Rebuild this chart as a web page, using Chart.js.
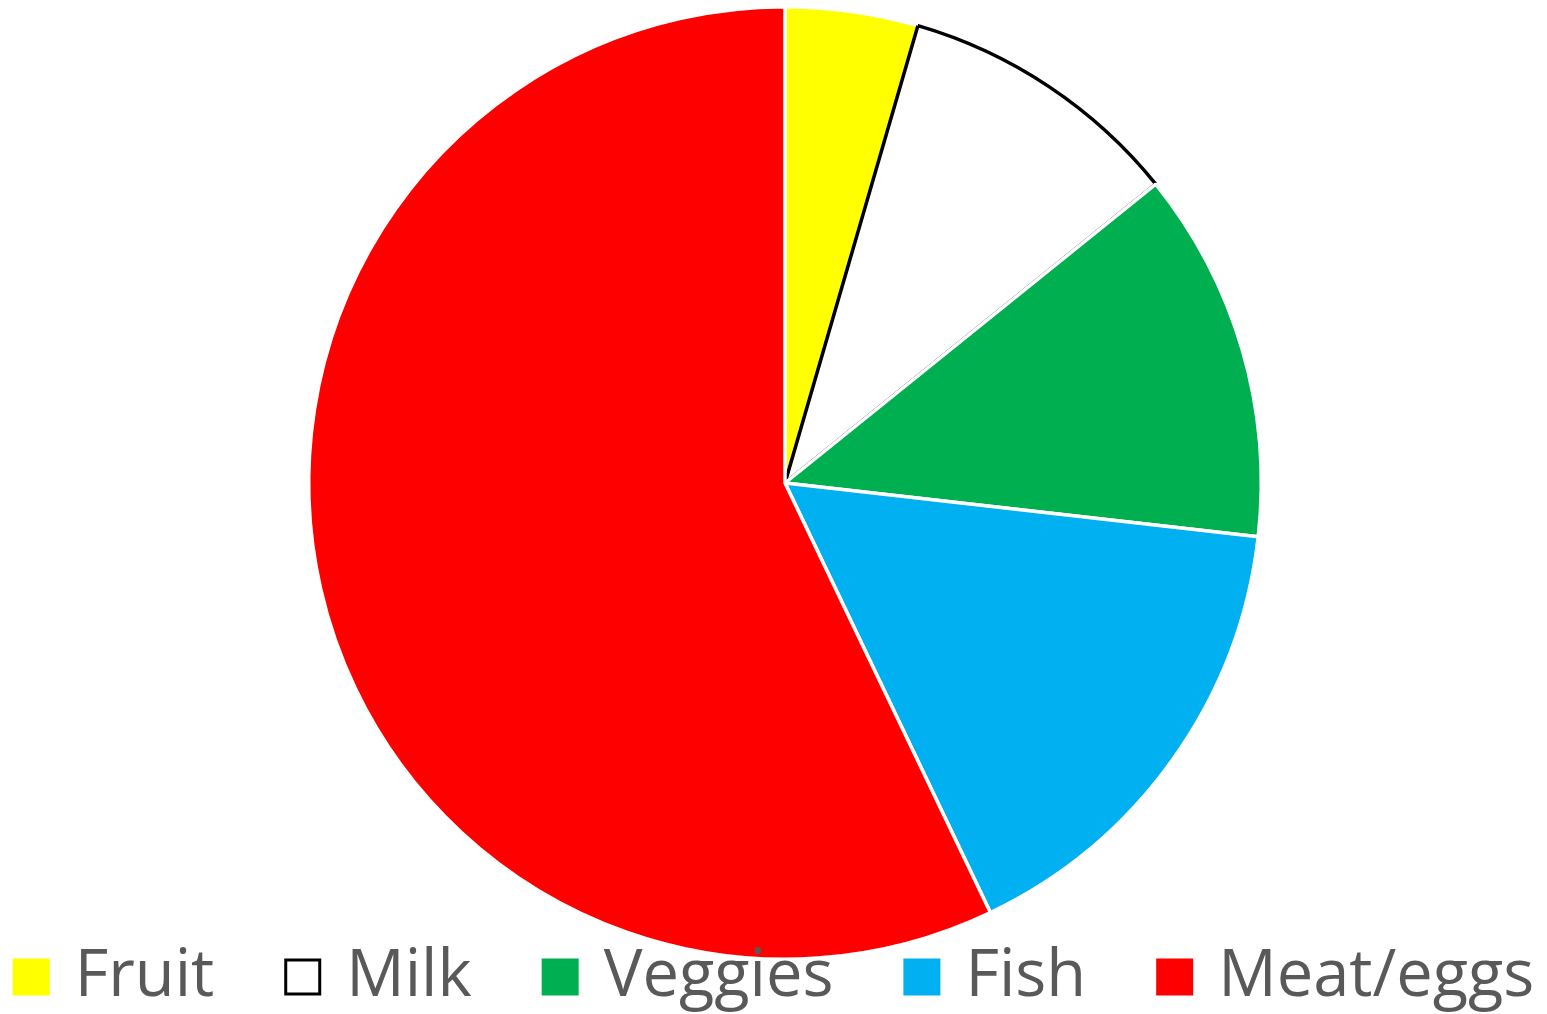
<!DOCTYPE html>
<html lang="en">
<head>
    <meta charset="UTF-8">
    <title>Food share</title>
    <script src="https://cdn.jsdelivr.net/npm/chart.js"></script>
    <style>
        html, body { margin: 0; padding: 0; background: #ffffff; }
        #wrap { width: 1547px; height: 1014px; }
    </style>
</head>
<body>
    <div id="wrap">
        <canvas id="foodChart" width="1547" height="1014"></canvas>
    </div>
    <script>
        // values (percent of the whole)
        const categories = ["Fruit", "Milk", "Veggies", "Fish", "Meat/eggs"];
        const shares = [4.5, 9.7, 12.6, 16.1, 57.1];
        const sliceColors = ["#FFFF00", "#FFFFFF", "#00B050", "#00B0F0", "#FF0000"];
        const sliceBorders = ["#FFFFFF", "#000000", "#FFFFFF", "#FFFFFF", "#FFFFFF"];

        // legend row under the pie, drawn on the same canvas
        const bottomLegend = {
            id: "bottomLegend",
            afterDraw(chart) {
                const ctx = chart.ctx;
                const box = 37, gap = 25, space = 70, yMid = 977;
                ctx.save();
                ctx.font = "65px 'Open Sans'";
                ctx.textBaseline = "middle";
                const widths = categories.map(c => ctx.measureText(c).width);
                let total = 0;
                widths.forEach((w, i) => {
                    total += box + gap + w + (i < widths.length - 1 ? space : 0);
                });
                let x = (chart.width - total) / 2;
                categories.forEach((c, i) => {
                    ctx.fillStyle = sliceColors[i];
                    ctx.fillRect(x, yMid - box / 2, box, box);
                    if (sliceBorders[i] !== "#FFFFFF") {
                        ctx.lineWidth = 3;
                        ctx.strokeStyle = sliceBorders[i];
                        ctx.strokeRect(x + 1.5, yMid - box / 2 + 1.5, box - 3, box - 3);
                    }
                    ctx.fillStyle = "#595959";
                    ctx.fillText(c, x + box + gap, yMid);
                    x += box + gap + widths[i] + space;
                });
                ctx.restore();
            }
        };

        new Chart(document.getElementById("foodChart").getContext("2d"), {
            type: "pie",
            data: {
                labels: categories,
                datasets: [{
                    data: shares,
                    backgroundColor: sliceColors,
                    borderColor: sliceBorders,
                    borderWidth: 3.5
                }]
            },
            options: {
                responsive: false,
                animation: false,
                events: [],
                layout: { padding: { top: 5, left: 23, right: 0, bottom: 53 } },
                plugins: {
                    legend: { display: false },
                    tooltip: { enabled: false }
                }
            },
            plugins: [bottomLegend]
        });
    </script>
</body>
</html>
